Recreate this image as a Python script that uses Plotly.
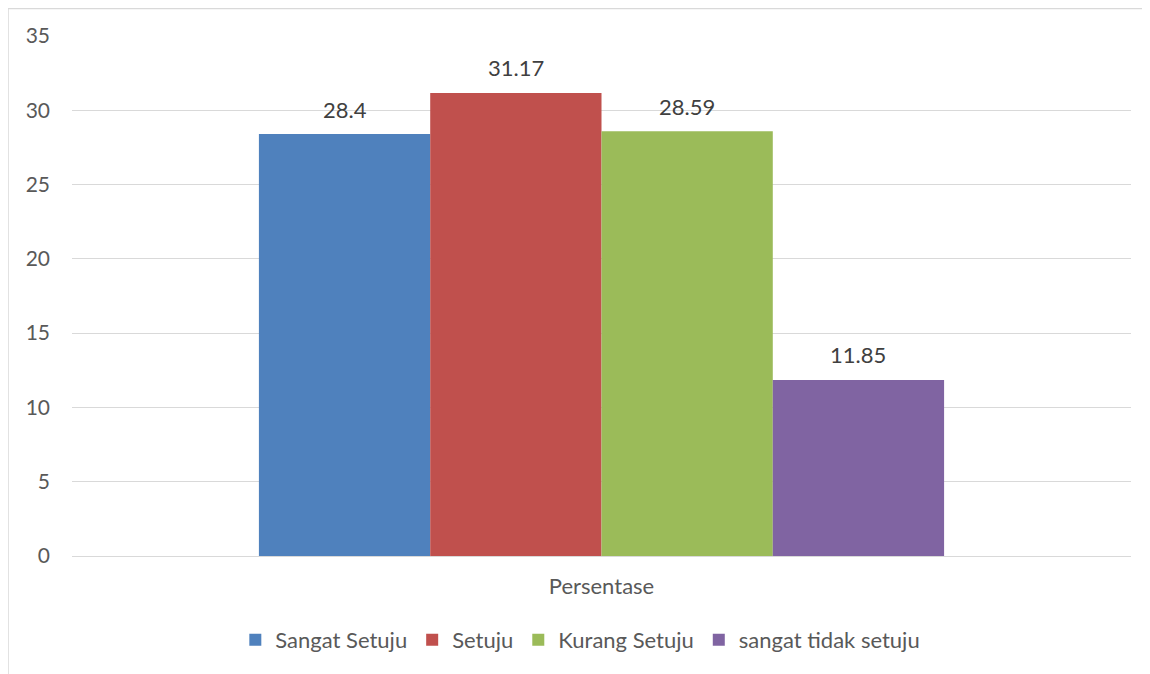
import plotly.graph_objects as go

categories = ["Persentase"]
series_names = ["Sangat Setuju", "Setuju", "Kurang Setuju", "sangat tidak setuju"]
series_values = [[28.4], [31.17], [28.59], [11.85]]
series_colors = ["#4F81BD", "#C0504D", "#9BBB59", "#8064A2"]
y_ticks = [0, 5, 10, 15, 20, 25, 30, 35]

FONT = "Lato"
FS = 22
BARGAP = 0.353
n = len(series_names)
w = (1 - BARGAP) / n
cat_pos = list(range(len(categories)))

fig = go.Figure()
annotations = []
for i, (name, vals, col) in enumerate(zip(series_names, series_values, series_colors)):
    off = -(1 - BARGAP) / 2 + i * w
    fig.add_trace(go.Bar(
        x=cat_pos, y=vals, name=name, marker_color=col, marker_line_width=0,
        width=w, offset=off, cliponaxis=False,
    ))
    for xp, v in zip(cat_pos, vals):
        annotations.append(dict(
            x=xp + off + w / 2, y=v, xref="x", yref="y", text=f"{v}",
            showarrow=False, yanchor="middle", yshift=25,
            font=dict(family=FONT, size=FS, color="#404040"),
        ))

# page has an 8px body margin; compensate
W, H = 1142, 666
L, R, T, B = 64, 19, 28, 118
pw, ph = W - L - R, H - T - B

fig.update_layout(
    width=W, height=H,
    margin=dict(l=L, r=R, t=T, b=B),
    paper_bgcolor="white", plot_bgcolor="white",
    barmode="overlay",
    font=dict(family=FONT, size=FS, color="#595959"),
    showlegend=True,
    legend=dict(orientation="h", x=0.48, xanchor="center", y=-(632 - (H - B)) / ph,
                yanchor="middle", font=dict(family=FONT, size=FS, color="#595959"),
                itemclick=False, traceorder="normal"),
    xaxis=dict(range=[-0.5, len(categories) - 0.5], tickvals=cat_pos, ticktext=categories,
               showgrid=False, showline=False, zeroline=False, ticks="",
               ticklabelstandoff=15,
               tickfont=dict(family=FONT, size=FS, color="#595959")),
    yaxis=dict(range=[0, 35], tickvals=y_ticks, showgrid=True, gridcolor="#d9d9d9",
               gridwidth=1.3, zeroline=True, zerolinecolor="#d9d9d9", zerolinewidth=1.3,
               showline=False, ticks="", ticklabelstandoff=21,
               tickfont=dict(family=FONT, size=21, color="#595959")),
    annotations=annotations,
    shapes=[dict(type="rect", xref="paper", yref="paper",
                 x0=-(L) / pw, x1=1 + (R + 10) / pw,
                 y0=-(B + 10) / ph, y1=1 + (T - 0.5) / ph,
                 line=dict(color="#d9d9d9", width=1.5), fillcolor="rgba(0,0,0,0)",
                 layer="below")],
)

fig.write_html("out.html")
